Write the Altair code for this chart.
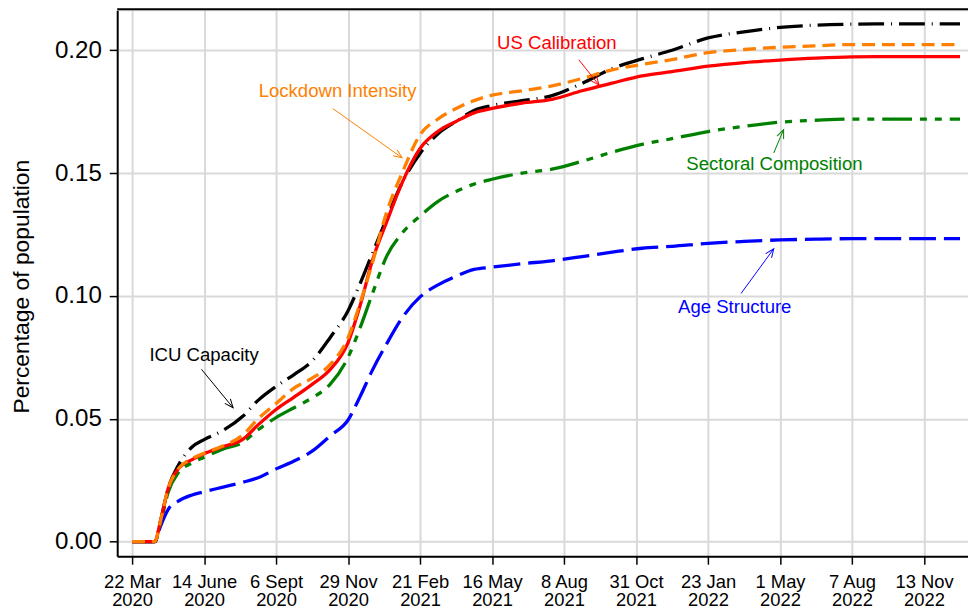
import math
import altair as alt
import pandas as pd

# ---------------- data ----------------
weeks = [0, 3.8, 4.7, 6, 7.7, 10, 12, 15, 18.5, 21, 24, 27, 30, 33, 36, 38, 40, 42.5,
         45, 48, 51, 54, 57, 60, 65, 70, 75, 80, 85, 90, 96, 102, 108, 114, 120, 126, 132, 138]

us_calibration = [0, 0, 0.008, 0.0215, 0.0296, 0.0334, 0.0358, 0.0385, 0.0417, 0.0475, 0.0538,
                  0.0588, 0.064, 0.070, 0.081, 0.096, 0.114, 0.1305, 0.146, 0.160, 0.167, 0.171,
                  0.1745, 0.1763, 0.1785, 0.180, 0.1835, 0.1866, 0.1896, 0.1913, 0.1935, 0.195,
                  0.196, 0.1968, 0.1973, 0.1974, 0.1974, 0.1974]

lockdown_intensity = [0, 0, 0.008, 0.0215, 0.0296, 0.0338, 0.036, 0.0388, 0.0435, 0.050, 0.0562,
                      0.0625, 0.0665, 0.072, 0.083, 0.097, 0.113, 0.1346, 0.150, 0.1656, 0.172,
                      0.1763, 0.1795, 0.1817, 0.1835, 0.1855, 0.1885, 0.192, 0.1942, 0.1962,
                      0.199, 0.2003, 0.2012, 0.2018, 0.2023, 0.2023, 0.2023, 0.2023]

icu_capacity = [0, 0, 0.008, 0.0215, 0.031, 0.0385, 0.0415, 0.045, 0.0511, 0.0575, 0.0632, 0.068,
                0.0735, 0.083, 0.094, 0.105, 0.117, 0.132, 0.146, 0.158, 0.166, 0.171, 0.1755,
                0.1775, 0.1795, 0.1815, 0.1865, 0.1925, 0.1965, 0.200, 0.205, 0.2075, 0.2093,
                0.2102, 0.2106, 0.2107, 0.2107, 0.2107]

sectoral_composition = [0, 0, 0.007, 0.020, 0.028, 0.032, 0.0343, 0.0375, 0.0405, 0.0455, 0.0505,
                        0.0545, 0.0585, 0.064, 0.075, 0.087, 0.1005, 0.1165, 0.1255, 0.1325, 0.1385,
                        0.1425, 0.1455, 0.1475, 0.150, 0.1516, 0.1548, 0.1585, 0.1617, 0.164, 0.1669,
                        0.169, 0.1707, 0.1715, 0.172, 0.172, 0.172, 0.172]

age_structure = [0, 0, 0.006, 0.013, 0.0165, 0.019, 0.0203, 0.0221, 0.0242, 0.026, 0.0296, 0.0328,
                 0.0368, 0.043, 0.0495, 0.059, 0.0695, 0.0808, 0.091, 0.0996, 0.1045, 0.108,
                 0.1108, 0.1117, 0.1131, 0.1143, 0.116, 0.1178, 0.1194, 0.1202, 0.1214, 0.1222,
                 0.1228, 0.1231, 0.1233, 0.1233, 0.1233, 0.1233]

tick_weeks = [0, 12, 24, 36, 48, 60, 72, 84, 96, 108, 120, 132]
tick_day = ["22 Mar", "14 June", "6 Sept", "29 Nov", "21 Feb", "16 May", "8 Aug", "31 Oct",
            "23 Jan", "1 May", "7 Aug", "13 Nov"]
tick_year = ["2020", "2020", "2020", "2020", "2021", "2021", "2021", "2021",
             "2022", "2022", "2022", "2022"]
y_ticks = [0, 0.05, 0.10, 0.15, 0.20]

# annotations: label, colour, text position, arrow start, arrow end (week, value)
ann_label = ["US Calibration", "Lockdown Intensity", "Sectoral Composition", "Age Structure", "ICU Capacity"]
ann_color = ["#ff0000", "#ff8000", "#008000", "#0000ff", "#000000"]
ann_tx = [70.8, 34.25, 107.07, 100.45, 12.0]
ann_ty = [0.2029, 0.1832, 0.1536, 0.0956, 0.0761]
arr_x1 = [74.47, 33.43, 106.95, 101.5, 11.58]
arr_y1 = [0.1961, 0.1763, 0.1582, 0.1010, 0.0701]
arr_x2 = [77.83, 45.01, 108.6, 106.95, 16.83]
arr_y2 = [0.1858, 0.1562, 0.1677, 0.1192, 0.0545]

# ---------------- layout ----------------
W, H = 857, 550
XDOM = [-2.48, 139.33]
YDOM = [-0.00594, 0.2163]
FONT = "Liberation Sans"

px_w = W / (XDOM[1] - XDOM[0])
px_v = H / (YDOM[1] - YDOM[0])

xs = alt.Scale(domain=XDOM, nice=False, zero=False)
ys = alt.Scale(domain=YDOM, nice=False, zero=False)

label_expr = "[" + ",".join(f"['{d}','{y}']" for d, y in zip(tick_day, tick_year)) + "][round(datum.value/12)]"

common_axis = dict(domain=True, domainColor="black", domainWidth=2, ticks=True, tickColor="black",
                   tickWidth=1.5, tickSize=8, grid=True, gridColor="#d9d9d9", gridWidth=2,
                   labelColor="black", labelFont=FONT)

x_axis = alt.Axis(values=tick_weeks, labelExpr=label_expr, title=None,
                  labelFontSize=18.5, labelLineHeight=18, labelPadding=9, labelOverlap=False,
                  labelFlush=False, labelBaseline="top", **common_axis)
y_axis = alt.Axis(values=y_ticks, format=".2f",
                  labelFontSize=24.3, labelPadding=8, title="Percentage of population",
                  titleFont=FONT, titleColor="black",
                  titleFontSize=23, titleFontWeight="normal", titleX=-96, titleY=278,
                  titleAngle=270, titleAlign="center", titleBaseline="middle", **common_axis)


def X(field):
    return alt.X(field, scale=xs, axis=x_axis)


def Y(field):
    return alt.Y(field, scale=ys, axis=y_axis)


series = [
    ("Age Structure", age_structure, "#0000ff", [27, 8]),
    ("Sectoral Composition", sectoral_composition, "#008000", [30, 8, 7, 8, 7, 8]),
    ("ICU Capacity", icu_capacity, "#000000", [26, 7, 1, 7]),
    ("US Calibration", us_calibration, "#ff0000", None),
    ("Lockdown Intensity", lockdown_intensity, "#ff8000", [13, 7]),
]

layers = []
for name, vals, col, dash in series:
    df = pd.DataFrame({"week": weeks, "value": vals, "series": name})
    kw = dict(color=col, strokeWidth=3.3, interpolate="monotone")
    if dash:
        kw["strokeDash"] = dash
    layers.append(alt.Chart(df).mark_line(**kw).encode(x=X("week:Q"), y=Y("value:Q")))

ann = pd.DataFrame({"label": ann_label, "color": ann_color, "tx": ann_tx, "ty": ann_ty,
                    "x1": arr_x1, "y1": arr_y1, "x2": arr_x2, "y2": arr_y2})
ann["angle"] = [
    math.degrees(math.atan2((b - a) * px_w, (d - c) * px_v)) % 360
    for a, b, c, d in zip(arr_x1, arr_x2, arr_y1, arr_y2)
]

text_layer = alt.Chart(ann).mark_text(font=FONT, fontSize=18.7, align="center", baseline="middle").encode(
    x=X("tx:Q"), y=Y("ty:Q"), text="label:N", color=alt.Color("color:N", scale=None))

arrow_lines = alt.Chart(ann).mark_rule(strokeWidth=1).encode(
    x=X("x1:Q"), y=Y("y1:Q"), x2="x2:Q", y2="y2:Q", color=alt.Color("color:N", scale=None))

arrow_heads = alt.Chart(ann).mark_point(
    shape="M-0.42,1 L0,0 L0.42,1", filled=False, strokeWidth=1, size=300, opacity=1).encode(
    x=X("x2:Q"), y=Y("y2:Q"),
    angle=alt.Angle("angle:Q", scale=None), color=alt.Color("color:N", scale=None))

top_border = alt.Chart(pd.DataFrame({"a": [0]})).mark_rule(color="black", strokeWidth=2).encode(
    x=alt.value(0), x2=alt.value(W), y=alt.value(-1))

chart = alt.layer(*layers, arrow_lines, arrow_heads, text_layer, top_border).properties(
    width=W, height=H,
    padding={"left": 110, "top": 0, "right": 0, "bottom": 53},
    autosize=alt.AutoSizeParams(type="none"),
).configure_view(stroke=None).configure(background="white")

chart.save("out.html", embed_options={"renderer": "svg", "actions": False})
